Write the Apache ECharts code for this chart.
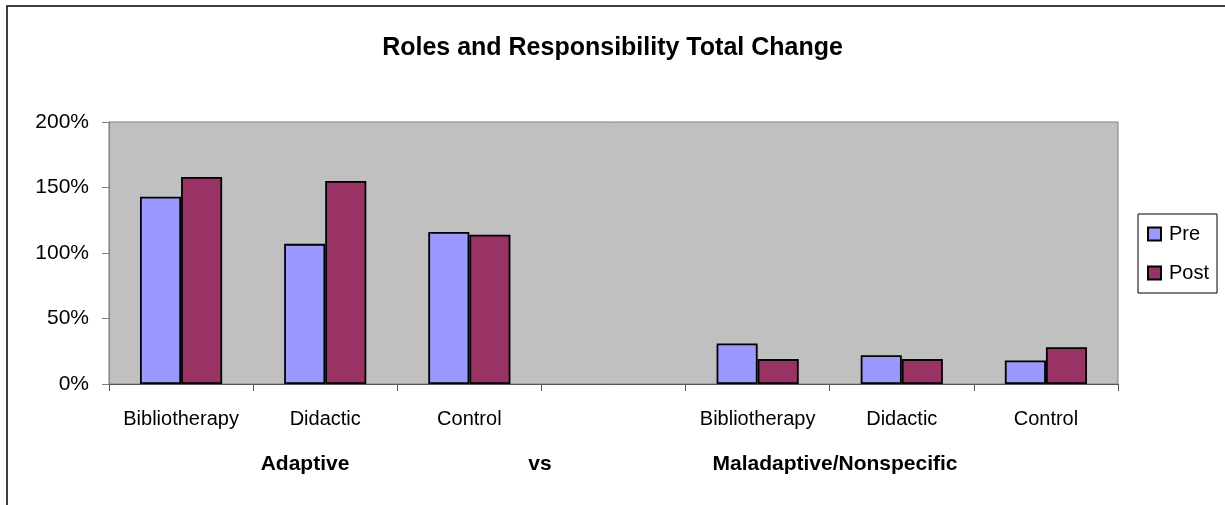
<!DOCTYPE html>
<html lang="en">
  <head>
    <meta charset="UTF-8" />
    <title>roles and responsibility</title>
    <style>
      body, html {
        margin: 0;
        width: 100%;
        height: 100%;
        background: #fff;
      }
    </style>
  </head>
  <body>
    <div id="main" style="width:1225px;height:505px;"></div>

    <script src="https://cdn.jsdelivr.net/npm/echarts@6/dist/echarts.min.js"></script>
    <script>
      // categories (the empty one is the gap between the two groups)
      const categories = ['Bibliotherapy', 'Didactic', 'Control', '', 'Bibliotherapy', 'Didactic', 'Control'];
      const preValues = [143, 107, 116, '-', 31, 22, 18];
      const postValues = [158, 155, 114, '-', 19, 19, 28];
      const yTicks = { min: 0, max: 200, interval: 50 };
      const groupLabels = ['Adaptive', 'vs', 'Maladaptive/Nonspecific'];

      const font = 'Arial, "Liberation Sans", sans-serif';
      const myChart = echarts.init(document.getElementById('main'));

      const option = {
        animation: false,
        backgroundColor: '#fff',
        title: {
          text: 'Roles and Responsibility Total Change',
          left: 'center',
          top: 31,
          textStyle: { fontFamily: font, fontSize: 25, fontWeight: 'bold', color: '#000' },
        },
        legend: {
          orient: 'vertical',
          left: 1138,
          top: 214,
          padding: [10, 8, 10, 9],
          itemGap: 19,
          itemWidth: 13,
          itemHeight: 13,
          icon: 'rect',
          borderColor: '#000',
          borderWidth: 1,
          textStyle: { fontFamily: font, fontSize: 20, color: '#000', padding: [0, 0, 0, 3] },
          data: ['Pre', 'Post'],
        },
        grid: {
          left: 109,
          right: 107,
          top: 122,
          bottom: 121,
          show: true,
          backgroundColor: '#c0c0c0',
          borderColor: '#808080',
          borderWidth: 1,
          containLabel: false,
        },
        xAxis: {
          type: 'category',
          data: categories,
          axisLine: { lineStyle: { color: '#555', width: 1 } },
          axisTick: { show: true, length: 7, lineStyle: { color: '#555' } },
          axisLabel: { margin: 25, fontFamily: font, fontSize: 20, color: '#000', interval: 0 },
        },
        yAxis: {
          type: 'value',
          min: yTicks.min,
          max: yTicks.max,
          interval: yTicks.interval,
          axisLine: { show: true, lineStyle: { color: '#808080' } },
          axisTick: { show: true, length: 7, lineStyle: { color: '#808080' } },
          splitLine: { show: false },
          axisLabel: {
            margin: 20,
            fontFamily: font,
            fontSize: 21,
            color: '#000',
            formatter: '{value}%',
          },
        },
        graphic: [
          {
            type: 'rect',
            shape: { x: 7, y: 6, width: 1400, height: 700 },
            style: { fill: 'none', stroke: '#000', lineWidth: 1.5 },
            silent: true,
          },
          ...groupLabels.map((t, i) => ({
            type: 'text',
            x: [305, 540, 835][i],
            y: 464,
            style: {
              text: t,
              fontFamily: font,
              fontSize: 21,
              fontWeight: 'bold',
              fill: '#000',
              align: 'center',
              verticalAlign: 'middle',
            },
          })),
        ],
        series: [
          {
            name: 'Pre',
            type: 'bar',
            data: preValues,
            barGap: '0%',
            barCategoryGap: '43%',
            itemStyle: { color: '#9999ff', borderColor: '#000', borderWidth: 1.8 },
          },
          {
            name: 'Post',
            type: 'bar',
            data: postValues,
            itemStyle: { color: '#993366', borderColor: '#000', borderWidth: 1.8 },
          },
        ],
      };

      myChart.setOption(option);
    </script>
  </body>
</html>
